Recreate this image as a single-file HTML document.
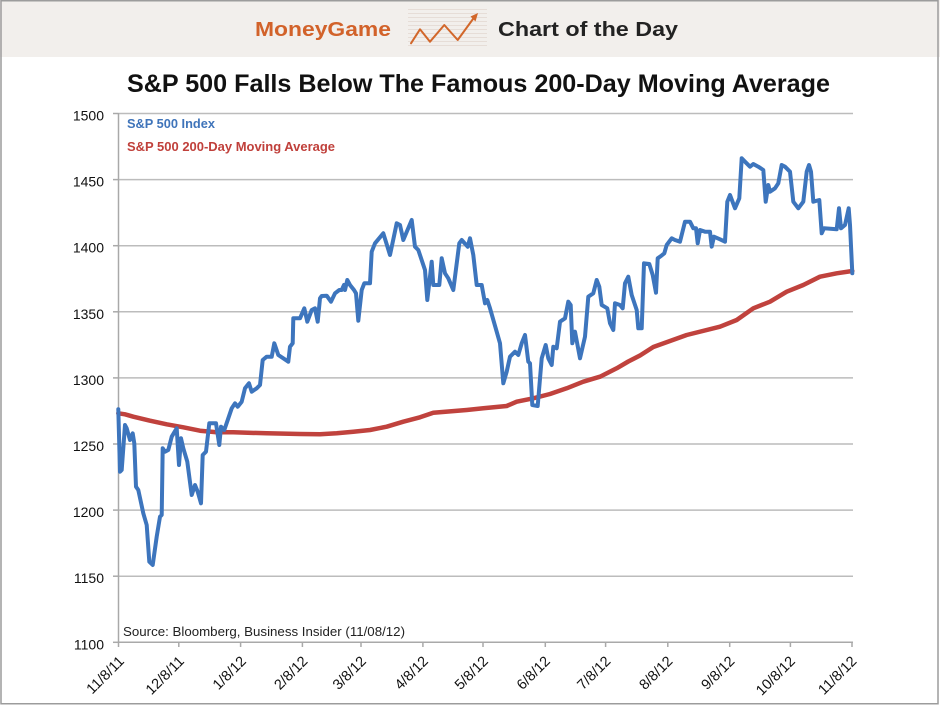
<!DOCTYPE html>
<html>
<head>
<meta charset="utf-8">
<style>
  html,body{margin:0;padding:0;background:#fff;}
  body{width:940px;height:705px;overflow:hidden;}
  svg{display:block;}
  text{font-family:"Liberation Sans",Arial,sans-serif;}
</style>
</head>
<body>
<svg width="940" height="705" viewBox="0 0 940 705" xmlns="http://www.w3.org/2000/svg">
  <!-- background & header -->
  <rect x="0" y="0" width="940" height="705" fill="#ffffff"/>
  <rect x="0" y="0" width="940" height="57" fill="#f2efec"/>
  <rect x="1" y="0.75" width="937" height="703" fill="none" stroke="#9c9c9c" stroke-width="1.5"/>

  <text x="255" y="36" font-size="20" font-weight="bold" fill="#d2622a" textLength="136" lengthAdjust="spacingAndGlyphs">MoneyGame</text>
  <!-- icon stripes -->
  <g stroke="#e6ddd7" stroke-width="1">
    <line x1="408" y1="9.5" x2="487" y2="9.5"/>
    <line x1="408" y1="13.5" x2="487" y2="13.5"/>
    <line x1="408" y1="17.5" x2="487" y2="17.5"/>
    <line x1="408" y1="21.5" x2="487" y2="21.5"/>
    <line x1="408" y1="25.5" x2="487" y2="25.5"/>
    <line x1="408" y1="29.5" x2="487" y2="29.5"/>
    <line x1="408" y1="33.5" x2="487" y2="33.5"/>
    <line x1="408" y1="37.5" x2="487" y2="37.5"/>
    <line x1="408" y1="41.5" x2="487" y2="41.5"/>
    <line x1="408" y1="45.5" x2="487" y2="45.5"/>
  </g>
  <polyline points="411,43.3 420,29.3 430,41.7 444.3,25 457.7,40 473,19" fill="none" stroke="#d2672b" stroke-width="2" stroke-linejoin="round" stroke-linecap="round"/>
  <polygon points="478,13 470.5,16.5 475.5,21.5" fill="#d2672b"/>
  <text x="498" y="36" font-size="20" font-weight="bold" fill="#222222" textLength="180" lengthAdjust="spacingAndGlyphs">Chart of the Day</text>

  <!-- title -->
  <text x="127" y="92" font-size="25" font-weight="bold" fill="#111111" textLength="703" lengthAdjust="spacingAndGlyphs">S&amp;P 500 Falls Below The Famous 200-Day Moving Average</text>

  <!-- gridlines -->
  <g stroke="#bcbcbc" stroke-width="1.5">
    <line x1="118" y1="113.5" x2="853" y2="113.5"/>
    <line x1="118" y1="179.6" x2="853" y2="179.6"/>
    <line x1="118" y1="245.7" x2="853" y2="245.7"/>
    <line x1="118" y1="311.8" x2="853" y2="311.8"/>
    <line x1="118" y1="377.9" x2="853" y2="377.9"/>
    <line x1="118" y1="444" x2="853" y2="444"/>
    <line x1="118" y1="510.1" x2="853" y2="510.1"/>
    <line x1="118" y1="576.2" x2="853" y2="576.2"/>
  </g>
  <!-- axes -->
  <g stroke="#a9a9a9" stroke-width="1.5">
    <line x1="118.5" y1="113" x2="118.5" y2="643"/>
    <line x1="118" y1="642.3" x2="853" y2="642.3"/>
    <!-- y ticks -->
    <line x1="113" y1="113.5" x2="118" y2="113.5"/>
    <line x1="113" y1="179.6" x2="118" y2="179.6"/>
    <line x1="113" y1="245.7" x2="118" y2="245.7"/>
    <line x1="113" y1="311.8" x2="118" y2="311.8"/>
    <line x1="113" y1="377.9" x2="118" y2="377.9"/>
    <line x1="113" y1="444" x2="118" y2="444"/>
    <line x1="113" y1="510.1" x2="118" y2="510.1"/>
    <line x1="113" y1="576.2" x2="118" y2="576.2"/>
    <line x1="113" y1="642.3" x2="118" y2="642.3"/>
    <!-- x ticks -->
    <line x1="118.5" y1="642" x2="118.5" y2="647"/>
    <line x1="178.8" y1="642" x2="178.8" y2="647"/>
    <line x1="240.6" y1="642" x2="240.6" y2="647"/>
    <line x1="302.4" y1="642" x2="302.4" y2="647"/>
    <line x1="361" y1="642" x2="361" y2="647"/>
    <line x1="422.9" y1="642" x2="422.9" y2="647"/>
    <line x1="483" y1="642" x2="483" y2="647"/>
    <line x1="545.3" y1="642" x2="545.3" y2="647"/>
    <line x1="605.6" y1="642" x2="605.6" y2="647"/>
    <line x1="667.8" y1="642" x2="667.8" y2="647"/>
    <line x1="729.7" y1="642" x2="729.7" y2="647"/>
    <line x1="790.4" y1="642" x2="790.4" y2="647"/>
    <line x1="852" y1="642" x2="852" y2="647"/>
  </g>

  <!-- y labels -->
  <g font-size="14" fill="#111111" text-anchor="end">
    <text x="104" y="120.5">1500</text>
    <text x="104" y="186.6">1450</text>
    <text x="104" y="252.7">1400</text>
    <text x="104" y="318.8">1350</text>
    <text x="104" y="384.9">1300</text>
    <text x="104" y="451">1250</text>
    <text x="104" y="517.1">1200</text>
    <text x="104" y="583.2">1150</text>
    <text x="104" y="649.3">1100</text>
  </g>

  <!-- x labels -->
  <g font-size="14.5" fill="#111111" text-anchor="end">
    <text transform="translate(125,662) rotate(-45)">11/8/11</text>
    <text transform="translate(185,662) rotate(-45)">12/8/11</text>
    <text transform="translate(247,662) rotate(-45)">1/8/12</text>
    <text transform="translate(308.5,662) rotate(-45)">2/8/12</text>
    <text transform="translate(367,662) rotate(-45)">3/8/12</text>
    <text transform="translate(429,662) rotate(-45)">4/8/12</text>
    <text transform="translate(489,662) rotate(-45)">5/8/12</text>
    <text transform="translate(551,662) rotate(-45)">6/8/12</text>
    <text transform="translate(611.5,662) rotate(-45)">7/8/12</text>
    <text transform="translate(673.5,662) rotate(-45)">8/8/12</text>
    <text transform="translate(735.5,662) rotate(-45)">9/8/12</text>
    <text transform="translate(796,662) rotate(-45)">10/8/12</text>
    <text transform="translate(857.5,662) rotate(-45)">11/8/12</text>
  </g>

  <!-- source -->
  <text x="123" y="636" font-size="13" fill="#222222" textLength="282" lengthAdjust="spacingAndGlyphs">Source: Bloomberg, Business Insider (11/08/12)</text>

  <!-- legend -->
  <text x="127" y="128" font-size="13" font-weight="bold" fill="#3f74ba" textLength="88" lengthAdjust="spacingAndGlyphs">S&amp;P 500 Index</text>
  <text x="127" y="151" font-size="13" font-weight="bold" fill="#c0403b" textLength="208" lengthAdjust="spacingAndGlyphs">S&amp;P 500 200-Day Moving Average</text>

  <!-- moving average -->
  <polyline fill="none" stroke="#c0423d" stroke-width="4.5" stroke-linejoin="round" stroke-linecap="round"
    points="118.3,413.3 125,414.3 133.3,416.7 150,420.7 166.7,424.3 183.3,427.3 200,430.7 216.7,432.3 233.3,432.3 266.7,433.3 300,434 320,434.3 336.7,433.3 353.3,431.7 370,430 386.7,426.7 403.3,421.7 420,417.3 433.3,412.7 466.7,410 483.3,408.3 506.7,406 516.7,401.7 533.3,398.3 550,394 566.7,388.3 583.3,381.7 600,376.7 616.7,368.3 628.3,361.5 640,355.5 653.3,347 686.7,335 720,326.7 736.7,320 753.3,308.3 770,301.7 786.7,291.7 803.3,285 820,276.7 836.7,273.3 852.3,271"/>

  <!-- S&P 500 index -->
  <polyline fill="none" stroke="#3d75bd" stroke-width="4" stroke-linejoin="round" stroke-linecap="round"
    points="118.3,409.3 120,471.7 121.7,470 125,425 126.7,428.3 130,440 132.7,433.3 134.3,443.3 136,486.7 138.3,490 143.3,513.3 146.7,525 149.3,561.7 152.7,565 156.7,536.7 160,516.7 161.7,515 162.7,448.3 165,451.7 168.3,450 171.7,436.7 176.7,428.3 179,465 181,438.3 183.3,448.3 187.3,461.7 191.7,495 195,485 197.7,491.7 201,503.3 202.7,455 206,451.7 209.3,423.3 216,423.3 219.3,445 221,426.7 224.3,430 228.3,418.3 231.7,408.3 235,403.3 237.7,406.7 241.7,401.7 245,388.3 249,383.3 251.7,391.7 256.7,388.3 260,385 262.7,360 266.7,356.7 271.7,356.7 274.3,343.3 278.3,355 283.3,358.3 288.3,361.7 290,346.7 292.7,343.3 293.3,318.3 300,318.3 304.3,308.3 307.3,321.7 311.7,310 315,308.3 317.7,321.7 320,298.3 321.7,296 326.7,295.7 331,301.7 335,293.3 339.3,290 341.7,290 344,285 345,290 347.3,280 350,285 354,290 356,293.3 358.3,320.7 361.7,290 364.3,283.3 370,283.3 371.7,251.7 375,243.3 383.3,233.3 390,255 396.7,223.3 400,225 403.3,240 411.7,220 415,246.7 418.3,250 425,270 427.3,300 431.7,261.7 433.3,285 439.3,285 441.7,258.3 445,273.3 448.3,278.3 453.3,290 459.3,243.3 461.7,240 467.7,246.7 470,238.3 473.3,255 476.7,285 481.7,285 485,303.3 487.3,300 490,308.3 496.7,331.7 500,343.3 503.3,383.3 506.7,371.7 510,356.7 515,351.7 518.3,355 521.7,343.3 525,335 528.3,361.7 530,363.3 532.3,405 537.7,406 541.7,358.3 545.7,345 548.3,358.3 551.7,365 553.3,346.7 556.7,348.3 560,321.7 565,318.3 568.3,301.7 570.7,305 572.3,343.3 575,331.7 580,358.3 585,336.7 588.3,296.7 593.3,293.3 596.7,280 599.3,286.7 601.7,305 607.3,308.3 610,323.3 613.3,330 615,303.3 620,305 622.7,308.3 625,283.3 628.3,276.7 631.7,295 636.7,310 638.3,328.3 641.7,328.3 644,263.3 649.3,264 652.7,275 656,292.7 657.7,258.3 661,256 664.3,253.3 666.7,245 671.7,238.3 675,240 680,241.7 685,221.7 690,221.7 693.3,228.3 696,228.3 697.7,243.3 700,230 705,231.7 710,231.7 711.7,246.7 714,236.7 720,239.3 725,241.7 727.3,201.7 730,195 735,208.3 739.3,198.3 741.7,158.3 745,161.7 750,166.7 753.3,164 758.3,166.7 763.3,170 765.7,201.7 768.3,185 770,191.7 775,188.3 778.3,183.3 781.7,165 785,166.7 790,171.7 793.3,201.7 798.3,208.3 803.3,201.7 806.7,171.7 809,165 811,171.7 813.3,201.7 819.3,200 821.7,233.3 824,228.3 836.7,229.3 839,208.3 841,228.3 845,225 848.7,208.3 850,225 852.3,273.3"/>
</svg>
</body>
</html>
